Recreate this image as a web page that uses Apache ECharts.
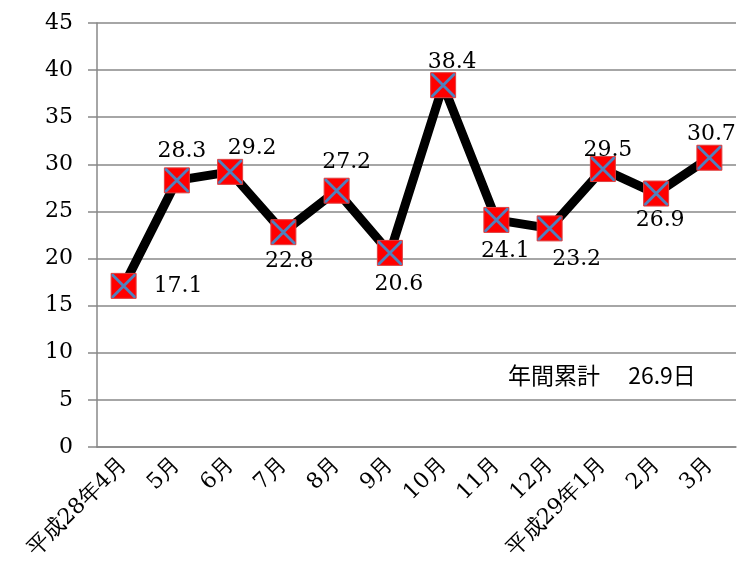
<!DOCTYPE html>
<html>

<head>
  <meta charset="utf-8">
  <title>年間累計</title>
  <script src="https://cdn.jsdelivr.net/npm/echarts/dist/echarts.min.js"></script>
  <style>
    html, body { margin: 0; padding: 0; background: #fff; }
    #chart { width: 739px; height: 585px; }
  </style>
</head>

<body>
  <div id="chart"></div>

  <script>
    // categories / values
    const months = ['平成28年4月', '5月', '6月', '7月', '8月', '9月', '10月', '11月', '12月', '平成29年1月', '2月', '3月'];
    const days = [17.1, 28.3, 29.2, 22.8, 27.2, 20.6, 38.4, 24.1, 23.2, 29.5, 26.9, 30.7];
    // where each value label sits relative to its marker
    const labelPos = ['right', 'top', 'top', 'bottom', 'top', 'bottom', 'top', 'bottom', 'bottom', 'top', 'bottom', 'top'];
    const labelShift = [[10, 0], [5, 2], [22, 7], [6, -2], [10, 3], [9, 0], [9, 8], [9, 0], [27, 0], [5, 12], [4, -4], [2, 8]];
    const totalText = '年間累計　 26.9日';

    const serif = 'DejaVu Serif';
    const xMark = 'path://M0,0 L2,0 L24,22 L24,24 L22,24 L0,2 Z M24,0 L24,2 L2,24 L0,24 L0,22 L22,0 Z';

    const chart = echarts.init(document.getElementById('chart'));
    chart.setOption({
      animation: false,
      grid: { left: 97, right: 3, top: 23, bottom: 138 },
      xAxis: {
        type: 'category',
        data: months,
        axisLine: { lineStyle: { color: '#888', width: 1.5 } },
        axisTick: { length: 8, lineStyle: { color: '#888', width: 1.5 } },
        axisLabel: { rotate: 45, margin: 14, color: '#000', fontFamily: serif, fontSize: 22 }
      },
      yAxis: {
        type: 'value',
        min: 0,
        max: 45,
        interval: 5,
        axisLine: { show: true, lineStyle: { color: '#888', width: 1.5 } },
        axisTick: { show: true, length: 9, lineStyle: { color: '#888', width: 1.5 } },
        splitLine: { lineStyle: { color: '#888', width: 1.5 } },
        axisLabel: { margin: 24, color: '#000', fontFamily: serif, fontSize: 22 }
      },
      series: [
        {
          type: 'line',
          data: days.map((v, i) => ({
            value: v,
            label: { position: labelPos[i], offset: labelShift[i] }
          })),
          lineStyle: { color: '#000', width: 9 },
          symbol: 'rect',
          symbolSize: 25,
          itemStyle: { color: '#ff0000', borderColor: '#e04040', borderWidth: 1 },
          label: { show: true, distance: 7, color: '#000', fontFamily: serif, fontSize: 22 },
          z: 2
        },
        {
          type: 'line',
          data: days,
          lineStyle: { width: 0, opacity: 0 },
          symbol: xMark,
          symbolSize: 24,
          itemStyle: { color: '#4f81bd' },
          silent: true,
          z: 3
        }
      ],
      graphic: [{
        type: 'text',
        left: 508,
        top: 364,
        style: { text: totalText, fill: '#000', font: '23px "Noto Sans CJK JP"' }
      }]
    });
  </script>
</body>

</html>
